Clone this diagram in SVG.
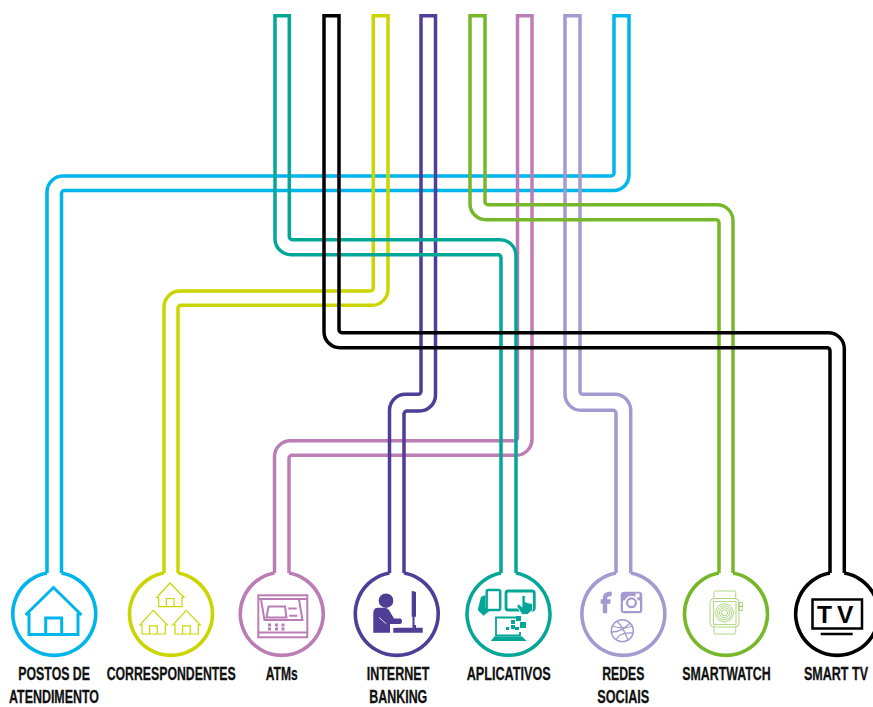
<svg xmlns="http://www.w3.org/2000/svg" xmlns:xlink="http://www.w3.org/1999/xlink" width="873" height="707" viewBox="0 0 873 707">
<style>
.p{fill:none;stroke-width:3.5;stroke-linejoin:miter}
.r{fill:none;stroke-width:3.6}
.l{font-family:"Liberation Sans Narrow","Liberation Sans",Arial,sans-serif;font-weight:700;font-size:18.8px;fill:#111;stroke:#111;stroke-width:.3;text-anchor:start}
.blue{stroke:#00b5ea}.lime{stroke:#cbd500}.pink{stroke:#bb7db5}.purple{stroke:#4f3d96}.lav{stroke:#a599cf}.green{stroke:#76b82a}.teal{stroke:#04a797}.black{stroke:#000}
</style>
<defs>
<g id="smallhouse" fill="none" stroke="#cbd500" stroke-width="1.2">
<path d="M156.700 597.500L170 583L184 597.500H182V606.700H158.700V597.500Z"/>
<path d="M166.300 606.700V598.500H174V606.700"/>
</g>
</defs>
<rect width="873" height="707" fill="#fff"/>
<g id="connectors">
<path class="p blue" d="M47 573V192A16 16 0 0 1 63 176H611A3 3 0 0 0 614 173V15.750H629V175A15.500 15.500 0 0 1 613.500 190.500H64.500A3 3 0 0 0 61.500 193.500V573"/>
<path class="p pink" d="M274.500 573V456.700A16 16 0 0 1 290.500 440.700H514.500A3 3 0 0 0 517.500 437.700V15.750H532V439.300A16 16 0 0 1 516 455.300H292A3 3 0 0 0 289 458.300V573"/>
<path class="p lav" d="M616 573V413.300A3 3 0 0 0 613 410.300H581A16 16 0 0 1 565 394.300V15.750H580V391.300A3 3 0 0 0 583 394.300H614.700A16 16 0 0 1 630.700 410.300V573"/>
<path class="p lime" d="M164 573V307A16 16 0 0 1 180 291H370.300A3 3 0 0 0 373.300 288V15.750H388V289.300A16 16 0 0 1 372 305.300H181A3 3 0 0 0 178 308.300V573"/>
<path class="p purple" d="M389.500 573V410.300A16 16 0 0 1 405.500 394.300H418A3 3 0 0 0 421 391.300V15.750H435.500V395A16 16 0 0 1 419.500 411H407A3 3 0 0 0 404 414V573"/>
<path class="p green" d="M719 573V222.700A3 3 0 0 0 716 219.700H486A16 16 0 0 1 470 203.700V15.750H485V201.700A3 3 0 0 0 488 204.700H717A16 16 0 0 1 733 220.700V573"/>
<path class="p teal" d="M501 573V257.700A3 3 0 0 0 498 254.700H291A16 16 0 0 1 275 238.700V15.750H289.300V236.700A3 3 0 0 0 292.300 239.700H500A16 16 0 0 1 516 255.700V573"/>
<path class="p black" d="M830 573V350.700A3 3 0 0 0 827 347.700H340A16 16 0 0 1 324 331.700V15.750H339V329.700A3 3 0 0 0 342 332.700H828.300A16 16 0 0 1 844.300 348.700V573"/>
</g>
<g id="postos">
<path class="r blue" d="M61.500 573A41.500 41.500 0 1 1 47 573"/>
<path d="M25.500 615L53.500 587.500L81.500 615M29 613V634.500H78V613M45.700 634.500V618H61.700V634.500" fill="none" stroke="#00b5ea" stroke-width="3"/>
<text class="l" x="18.300" y="680" textLength="71.700" lengthAdjust="spacingAndGlyphs">POSTOS DE</text>
<text class="l" x="9" y="702.800" textLength="90" lengthAdjust="spacingAndGlyphs">ATENDIMENTO</text>
</g>
<g id="correspondentes">
<path class="r lime" d="M178 573A41.500 41.500 0 1 1 164 573"/>
<use xlink:href="#smallhouse" href="#smallhouse"/>
<use xlink:href="#smallhouse" href="#smallhouse" transform="translate(-16.700 27.300)"/>
<use xlink:href="#smallhouse" href="#smallhouse" transform="translate(16.300 27.300)"/>
<text class="l" x="106.700" y="680" textLength="129" lengthAdjust="spacingAndGlyphs">CORRESPONDENTES</text>
</g>
<g id="atms">
<path class="r pink" d="M289 573A41.500 41.500 0 1 1 274.500 573"/>
<g fill="none" stroke="#bb7db5" stroke-width="2">
<rect x="258.300" y="595.300" width="49" height="42"/>
<path d="M258.300 599H307.300M258.300 632.500H307.300M261 599.500L264.500 620H302.500L299 599.500M268.500 606.500H285L286.500 617.500H266.500Z"/>
<path d="M288.300 608.500H296.700M289.300 615.700H297.300"/>
</g>
<path fill="#bb7db5" d="M268 623.500h3v3h-3zM275 623.500h3v3h-3zM281.500 623.500h3v3h-3zM268 627.500h3v3h-3zM275 627.500h3v3h-3zM281.500 627.500h3v3h-3z"/>
<text class="l" x="265.700" y="680" textLength="32" lengthAdjust="spacingAndGlyphs">ATMs</text>
</g>
<g id="internet-banking">
<path class="r purple" d="M404 573A41.500 41.500 0 1 1 389.500 573"/>
<circle cx="386" cy="600.700" r="7.300" fill="#4f3d96"/>
<path fill="#4f3d96" d="M373.300 632.700V613Q373.300 607.700 378.300 607.700H384Q387 607.700 389 610L394 618.500H400Q402 618.500 402 621.500Q402 624 400 624H390V632.700Z"/>
<path d="M379 617.500L386.500 624" stroke="#fff" stroke-width="0.800" fill="none"/>
<path fill="#4f3d96" d="M411.700 590.700L416 592V616.700H414.500V625H416V627.700H422.700V632.700H393.300V628L400 627.700H412.500V616.700H411.700Z"/>
<text class="l" x="366.700" y="680" textLength="62.600" lengthAdjust="spacingAndGlyphs">INTERNET</text>
<text class="l" x="369.300" y="702.800" textLength="58" lengthAdjust="spacingAndGlyphs">BANKING</text>
</g>
<g id="aplicativos">
<path class="r teal" d="M516 573A41.500 41.500 0 1 1 501 573"/>
<rect x="486.700" y="590" width="13.500" height="20" rx="1.500" fill="none" stroke="#04a797" stroke-width="2.400"/>
<path fill="#04a797" d="M481 596.700L485.500 595V608L490.500 610L483.500 615.700L477.700 610Z"/>
<rect x="506" y="591" width="28.300" height="19" rx="2" fill="none" stroke="#04a797" stroke-width="2.800"/>
<path fill="#04a797" stroke="#fff" stroke-width="0.800" d="M522 595.500H525.200V602L532.500 603.800V610L527.500 614.500H522L516.700 606L518.700 604L522 607Z"/>
<path fill="none" stroke="#04a797" stroke-width="1.800" d="M517 617.500H496V635.500H520V632"/>
<path fill="#04a797" d="M494.500 636.500H522L526.700 641H490.700Z"/>
<path fill="#04a797" d="M516 616h5v5h-5zM511 620h4v4h-4zM520 622h6v6h-6zM511 625h4v4h-4zM506 627h3v3h-3zM515 627h4v3h-4z"/>
<text class="l" x="466.700" y="680" textLength="84" lengthAdjust="spacingAndGlyphs">APLICATIVOS</text>
</g>
<g id="redes-sociais">
<path class="r lav" d="M630.700 573A41.500 41.500 0 1 1 616 573"/>
<path fill="none" stroke="#a599cf" stroke-width="4.400" d="M605 613.300V598Q605 593.800 611.700 593.800M600.700 601.500H610.500"/>
<rect x="620.700" y="591.700" width="21.600" height="21.600" rx="3.500" fill="#a599cf"/>
<rect x="623" y="600.500" width="17" height="10.500" fill="#fff"/>
<circle cx="631.500" cy="602.800" r="7" fill="#fff"/>
<circle cx="631.500" cy="602.800" r="5.500" fill="#a599cf"/>
<circle cx="631.500" cy="602.800" r="3.300" fill="#fff"/>
<rect x="635.500" y="593.500" width="4" height="4" fill="#fff"/>
<circle cx="622.300" cy="630.700" r="11" fill="none" stroke="#a599cf" stroke-width="1.500"/>
<path fill="none" stroke="#a599cf" stroke-width="1.300" d="M617 621Q625 630 628 641M630 623Q622 632 611.500 632M612.500 626Q623 630 633 626M616 640Q619 632 632.500 633"/>
<text class="l" x="602.300" y="680" textLength="42" lengthAdjust="spacingAndGlyphs">REDES</text>
<text class="l" x="597.300" y="702.800" textLength="52" lengthAdjust="spacingAndGlyphs">SOCIAIS</text>
</g>
<g id="smartwatch">
<path class="r green" d="M733 573A41.500 41.500 0 1 1 719 573"/>
<g fill="none" stroke="#8cc44a" stroke-width="0.700">
<path d="M714 598.500V592.500Q714 591 715.500 591H734Q735.700 591 735.700 592.500V598.500M714 627V632.500Q714 634 715.500 634H734Q735.700 634 735.700 632.500V627"/>
<rect x="710" y="598.500" width="29" height="28.500" rx="4"/>
<rect x="713.300" y="601.700" width="22.700" height="22.600"/>
<circle cx="724.500" cy="612.800" r="3"/><circle cx="724.500" cy="612.800" r="5"/><circle cx="724.500" cy="612.800" r="7"/><circle cx="724.500" cy="612.800" r="9"/>
<rect x="739" y="602.300" width="3.300" height="4"/><rect x="739" y="606.300" width="3.300" height="4.300"/>
</g>
<text class="l" x="682.300" y="680" textLength="88.400" lengthAdjust="spacingAndGlyphs">SMARTWATCH</text>
</g>
<g id="smart-tv">
<path class="r black" d="M844.300 573A41.500 41.500 0 1 1 830 573"/>
<rect x="812.500" y="599.500" width="49.500" height="29" fill="none" stroke="#000" stroke-width="2.500"/>
<path d="M820.700 634H852.700" stroke="#000" stroke-width="2.400"/>
<text x="817" y="622.500" font-family="'Liberation Sans',Arial,sans-serif" font-weight="700" font-size="24.500" fill="#000">T</text>
<text x="837" y="622.500" font-family="'Liberation Sans',Arial,sans-serif" font-weight="700" font-size="24.500" fill="#000">V</text>
<text class="l" x="804" y="680" textLength="64" lengthAdjust="spacingAndGlyphs">SMART TV</text>
</g>
</svg>
